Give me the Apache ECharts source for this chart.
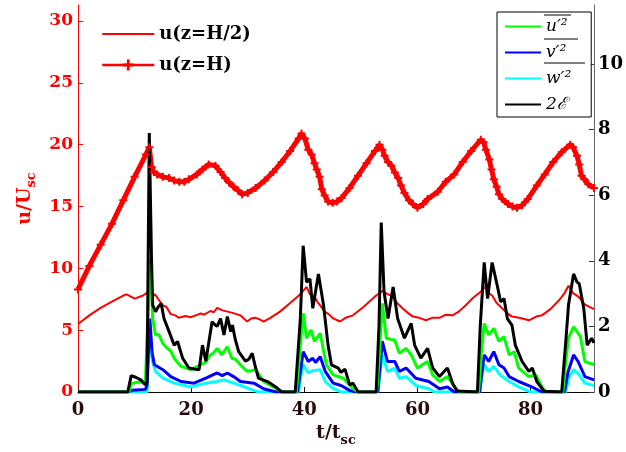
<!DOCTYPE html>
<html>
<head>
<meta charset="utf-8">
<script src="https://cdn.jsdelivr.net/npm/echarts@6/dist/echarts.min.js"></script>
<style>
  html, body { margin: 0; padding: 0; background: #fff; }
  #chart { width: 626px; height: 452px; }
</style>
</head>
<body>
<div id="chart"></div>
<script>
// velocity at mid height, u(z=H/2), left axis  [t, u]
var uMid = [[0,5.5],[2,6.2],[4,6.8],[6,7.3],[8,7.8],[8.6,7.9],[10,7.55],[11.5,7.8],[12.4,8.1],[13,7.7],[13.6,7.9],[14.2,7.5],[15,7.0],[15.6,6.9],[16.4,6.3],[17.2,6.2],[17.8,6.0],[19,6.15],[19.9,6.05],[20.8,6.2],[21.7,6.35],[22.3,6.25],[23.4,6.55],[24,6.45],[24.6,6.8],[25.5,6.6],[26.4,6.5],[27.3,6.4],[28.7,6.2],[29.4,5.9],[29.9,5.7],[30.6,5.95],[31.4,6.0],[32.2,5.85],[32.8,5.7],[34,6.0],[35.7,6.5],[37.5,7.2],[39.3,7.9],[40.4,8.5],[41,7.9],[41.8,7.7],[42.3,7.3],[42.8,7.0],[43.6,6.5],[44.3,6.3],[45.1,5.95],[46.3,5.7],[47.3,6.0],[48.6,6.2],[50.5,6.9],[52.7,7.8],[53.9,8.2],[54.7,7.9],[55.5,7.8],[56.4,7.2],[57.4,6.75],[58.3,6.4],[59.2,6.1],[60.3,6.0],[61.5,5.8],[62.6,6.0],[63.9,6.0],[65,6.25],[66.2,6.2],[67.3,6.5],[68.5,7.0],[69.8,7.6],[70.9,8.0],[72,8.5],[72.6,8.0],[73.2,7.8],[74,7.2],[75,6.75],[75.8,6.4],[76.7,6.1],[78,6.0],[79.7,5.8],[81,6.1],[82,6.2],[83.5,6.7],[85,7.4],[86,8.0],[86.7,8.6],[87.5,8.0],[88.5,7.7],[89.5,7.1],[90.3,6.9],[91.2,6.7]];

// velocity at the top, u(z=H), left axis
var uTop = [[0,8.3],[2,10.2],[4,11.9],[6,13.6],[8,15.5],[10,17.4],[12,19.2],[12.6,19.8],[13.0,18.2],[13.4,17.8],[14,17.6],[15,17.4],[16.1,17.3],[17,17.1],[17.9,17.0],[18.8,17.0],[19.6,17.2],[21,17.6],[22,18.0],[23.1,18.4],[24.3,18.3],[25.2,17.8],[26,17.3],[26.7,16.95],[27.5,16.6],[28.3,16.3],[29,16.0],[30,16.1],[31.4,16.5],[33,17.1],[34.5,17.8],[36,18.6],[37.5,19.5],[39.0,20.5],[39.5,20.9],[40.1,20.5],[40.7,19.6],[41.3,19.2],[41.8,18.5],[42.2,18.0],[42.7,17.4],[43.1,16.4],[43.6,15.9],[44.2,15.4],[45,15.3],[45.8,15.4],[46.6,15.7],[48,16.5],[49.5,17.5],[51,18.5],[52.5,19.5],[53.3,20.0],[53.8,19.6],[54.2,19.1],[54.8,18.6],[55.4,18.3],[56,17.75],[56.6,17.3],[57.1,16.7],[57.7,16.1],[58.5,15.5],[59.2,15.2],[60,14.9],[61,15.2],[61.8,15.6],[63.6,16.2],[65,17.0],[66.5,17.6],[68,18.6],[69.5,19.5],[71.2,20.4],[71.7,20.2],[72.1,19.6],[72.7,18.8],[73.1,18.0],[73.5,17.2],[74,16.6],[74.4,16.0],[75,15.6],[76,15.2],[76.8,15.0],[77.6,14.9],[78.5,15.1],[79.5,15.6],[81.1,16.7],[82.5,17.6],[84,18.6],[85.5,19.4],[87,20.0],[87.5,19.8],[88.2,19.1],[88.6,18.4],[89,17.5],[89.5,17.2],[90.2,16.8],[91.2,16.5]];

// fluctuations, right axis
var uu = [[0,0],[9,0],[9.4,0.25],[10.5,0.3],[11.9,0.3],[12.2,0.35],[12.8,4.06],[13.2,2.24],[13.7,1.74],[14.3,1.75],[15,1.48],[15.8,1.33],[16.4,1.25],[17,1.03],[18.2,0.78],[19.9,0.68],[21.7,0.83],[22.5,0.9],[23.4,1.13],[24,1.2],[24.6,1.33],[25.4,1.13],[26.4,1.38],[27.2,1.03],[27.8,1.0],[28.7,0.83],[29.9,0.63],[30.6,0.65],[31.4,0.68],[32.8,0.32],[34.6,0.15],[36,0],[38.6,0],[39.2,1.2],[39.8,2.4],[40.4,1.64],[41.2,1.89],[41.8,1.54],[42.8,1.79],[43.9,0.83],[45.1,0.52],[46.9,0.42],[48.6,0.1],[49.5,0],[52.8,0],[53.3,1.2],[53.8,2.7],[54.5,1.64],[56,1.58],[56.8,1.18],[58,1.33],[58.9,1.13],[60,0.73],[61.8,0.93],[62.7,0.52],[63.9,0.32],[65.3,0.47],[66.8,0.1],[67.5,0],[70.8,0],[71.3,1.2],[71.8,2.09],[72.6,1.74],[73.5,1.94],[74.4,1.54],[75.3,1.69],[76.2,1.13],[77.1,1.23],[77.9,0.73],[79.7,0.47],[80.9,0.52],[82.1,0.13],[82.8,0],[85.7,0],[86.2,0.9],[86.7,1.64],[87.6,1.99],[88.8,1.69],[89.6,0.93],[91.2,0.83]];

var vv = [[0,0],[9,0],[9.5,0.05],[11.9,0.08],[12.2,0.2],[12.7,2.24],[13.1,1.2],[13.5,0.83],[15,0.68],[16.4,0.47],[18.2,0.32],[20.5,0.27],[22.6,0.42],[24.6,0.58],[25.5,0.5],[26.4,0.58],[27.5,0.47],[28.7,0.32],[31.1,0.27],[32.8,0.1],[35,0],[38.8,0],[39.3,0.6],[39.8,1.23],[40.7,0.93],[41.5,1.03],[42,0.9],[42.8,1.08],[43.7,0.63],[45.1,0.27],[46.5,0.2],[48,0.05],[49,0],[53,0],[53.4,0.8],[53.8,1.54],[54.7,0.93],[56,0.93],[56.8,0.63],[58,0.73],[59.7,0.42],[62,0.32],[63.9,0.1],[65.3,0.15],[66.5,0],[71,0],[71.4,0.6],[71.8,1.13],[72.6,0.93],[73.5,1.23],[74.4,0.83],[75.3,0.73],[76.2,0.47],[77.9,0.32],[80.3,0.15],[82,0],[86,0],[86.6,0.6],[87.6,1.13],[88.4,0.93],[89.6,0.47],[91.2,0.37]];

var ww = [[0,0],[12.2,0],[12.6,1.64],[13.2,0.9],[13.7,0.63],[15,0.42],[17,0.27],[19.9,0.15],[22.6,0.27],[24.5,0.32],[25.8,0.37],[27,0.3],[28.7,0.2],[31,0.05],[32,0],[39,0],[39.3,0.4],[39.8,0.83],[40.7,0.58],[41.5,0.65],[42.8,0.68],[43.7,0.32],[45,0.12],[46.5,0],[53,0],[53.4,0.6],[53.8,1.13],[54.7,0.63],[56,0.73],[56.8,0.42],[58,0.47],[59.7,0.2],[62,0.1],[63,0],[71,0],[71.4,0.5],[71.8,0.83],[72.6,0.63],[73.5,0.78],[74.6,0.52],[76.2,0.32],[78,0.15],[80,0],[86.2,0],[86.8,0.45],[87.6,0.68],[88.6,0.52],[89.6,0.27],[91.2,0.2]];

var e2 = [[0,0],[8.8,0],[9.4,0.5],[10.2,0.45],[11.1,0.37],[11.9,0.22],[12.2,0.3],[12.6,7.9],[13.0,4],[13.2,2.65],[13.7,2.45],[14.2,2.6],[14.7,2.7],[15.2,2.24],[16.1,1.84],[17,1.43],[17.6,1.54],[18.5,1.03],[19.6,0.73],[20.5,0.7],[21.4,0.68],[22,1.43],[22.6,0.94],[23.2,1.6],[23.7,2.14],[24.2,2.05],[24.6,2.0],[25.2,2.24],[25.8,1.74],[26.4,2.3],[27,1.84],[27.3,2.04],[27.8,1.6],[28.4,1.23],[29.6,0.94],[30.2,1.0],[30.8,1.18],[31.3,0.8],[31.9,0.42],[33.7,0.3],[35.2,0.12],[36,0],[38.4,0],[39.3,2.24],[39.8,4.46],[40.4,3.35],[41,3.45],[41.5,2.55],[42.5,3.6],[43.4,2.65],[44.2,1.43],[44.8,0.83],[46,0.73],[46.5,0.6],[47.2,0.7],[48,0.22],[48.6,0.27],[49.5,0],[52.7,0],[53.2,2.0],[53.6,5.17],[54.1,3.05],[54.8,2.24],[55.7,3.2],[56.5,2.24],[57.7,1.64],[58.9,2.09],[59.5,1.43],[60.6,1.03],[61.8,1.33],[62.7,0.73],[63.9,0.47],[65.3,0.73],[66.2,0.27],[67,0.03],[70.6,0],[71.1,2.0],[71.8,3.95],[72.4,2.85],[73.2,3.95],[74.1,3.25],[74.7,2.75],[75.3,2.85],[75.9,2.24],[76.7,2.04],[77.3,1.43],[78.5,0.93],[79.7,0.63],[80.3,0.73],[81.1,0.32],[82.4,0.02],[85.5,0],[86.2,1.5],[86.7,2.65],[87.6,3.6],[88.2,3.35],[88.6,3.3],[89.4,2.55],[90,1.43],[90.8,1.64],[91.2,1.5]];

var xTicks = [0, 91.2, 20];     // min, max, interval
var yLeftTicks = [0, 31.3, 5];
var yRightTicks = [0, 11.8, 2];

var FONT = 'DejaVu Serif';
var plus = 'path://M3,0H5V3H8V5H5V8H3V5H0V3H3Z';
var hidden = { opacity: 0 };   // hide the legend dot on plain lines

var chart = echarts.init(document.getElementById('chart'));

chart.setOption({
  animation: false,
  grid: { left: 78, right: 29, top: 5, bottom: 58 },
  legend: [
    {
      left: 96, top: 20, orient: 'vertical',
      itemWidth: 52, itemHeight: 14, itemGap: 13,
      textStyle: { fontFamily: FONT, fontWeight: 'bold', fontSize: 18, color: '#000' },
      data: [
        { name: 'u(z=H/2)', itemStyle: hidden },
        { name: 'u(z=H)', lineStyle: { width: 2.5 } }
      ]
    },
    {
      left: 497, top: 12, orient: 'vertical',
      itemWidth: 36, itemHeight: 14, itemGap: 9,
      padding: [6, 20, 4, 7],
      borderColor: '#000', borderWidth: 1, backgroundColor: '#fff',
      textStyle: { fontFamily: FONT, fontStyle: 'italic', fontSize: 17, color: '#000' },
      data: [
        { name: 'u′²', itemStyle: hidden },
        { name: 'v′²', itemStyle: hidden },
        { name: 'w′²', itemStyle: hidden },
        { name: '2ℰ', itemStyle: hidden }
      ]
    }
  ],
  graphic: [
    { type: 'line', z: 100, shape: { x1: 544, y1: 15, x2: 571, y2: 15 }, style: { stroke: '#000', lineWidth: 1 } },
    { type: 'line', z: 100, shape: { x1: 544, y1: 39, x2: 578, y2: 39 }, style: { stroke: '#000', lineWidth: 1 } },
    { type: 'line', z: 100, shape: { x1: 544, y1: 63, x2: 585, y2: 63 }, style: { stroke: '#000', lineWidth: 1 } }
  ],
  xAxis: {
    type: 'value', min: xTicks[0], max: xTicks[1], interval: xTicks[2],
    name: '{a|t/t}{b|sc}', nameLocation: 'middle', nameGap: 28,
    nameTextStyle: {
      rich: {
        a: { fontFamily: FONT, fontWeight: 'bold', fontSize: 19, color: '#2a0a0a' },
        b: { fontFamily: FONT, fontWeight: 'bold', fontSize: 13, color: '#2a0a0a', padding: [14, 0, 0, 0] }
      }
    },
    axisLine: { lineStyle: { color: '#000', width: 1 } },
    axisTick: { inside: true, length: 5, lineStyle: { color: '#3a0a0a' } },
    axisLabel: { margin: 9, showMaxLabel: false, fontFamily: FONT, fontWeight: 'bold', fontSize: 18, color: '#2a0a0a' },
    splitLine: { show: false }
  },
  yAxis: [
    {
      type: 'value', min: yLeftTicks[0], max: yLeftTicks[1], interval: yLeftTicks[2],
      name: '{a|u/U}{b|sc}', nameLocation: 'middle', nameGap: 36,
      nameTextStyle: {
        rich: {
          a: { fontFamily: FONT, fontWeight: 'bold', fontSize: 19, color: '#ff0000' },
          b: { fontFamily: FONT, fontWeight: 'bold', fontSize: 13, color: '#ff0000', padding: [14, 0, 0, 0] }
        }
      },
      axisLine: { show: true, lineStyle: { color: '#ff0000', width: 1 } },
      axisTick: { inside: true, length: 5, lineStyle: { color: '#ff0000' } },
      axisLabel: { margin: 5, showMaxLabel: false, fontFamily: FONT, fontWeight: 'bold', fontSize: 17, color: '#ff0000' },
      splitLine: { show: false }
    },
    {
      type: 'value', min: yRightTicks[0], max: yRightTicks[1], interval: yRightTicks[2],
      position: 'right',
      axisLine: { show: true, lineStyle: { color: '#666', width: 1 } },
      axisTick: { inside: true, length: 5, lineStyle: { color: '#333' } },
      axisLabel: { margin: 4, showMaxLabel: false, fontFamily: FONT, fontWeight: 'bold', fontSize: 18, color: '#000' },
      splitLine: { show: false }
    }
  ],
  series: [
    {
      name: 'u(z=H/2)', type: 'line', yAxisIndex: 0, data: uMid,
      symbol: 'none', lineStyle: { color: '#ff0000', width: 2 }, itemStyle: { color: '#ff0000' }
    },
    {
      name: 'u(z=H)', type: 'line', yAxisIndex: 0, data: uTop,
      symbol: plus, symbolSize: 8, showSymbol: true,
      lineStyle: { color: '#ff0000', width: 5 }, itemStyle: { color: '#ff0000' }
    },
    {
      name: 'w′²', type: 'line', yAxisIndex: 1, data: ww,
      symbol: 'none', lineStyle: { color: '#00ffff', width: 3 }, itemStyle: { color: '#00ffff' }
    },
    {
      name: 'v′²', type: 'line', yAxisIndex: 1, data: vv,
      symbol: 'none', lineStyle: { color: '#0000ff', width: 3 }, itemStyle: { color: '#0000ff' }
    },
    {
      name: 'u′²', type: 'line', yAxisIndex: 1, data: uu,
      symbol: 'none', lineStyle: { color: '#00ff00', width: 3 }, itemStyle: { color: '#00ff00' }
    },
    {
      name: '2ℰ', type: 'line', yAxisIndex: 1, data: e2,
      symbol: 'none', lineStyle: { color: '#000', width: 3 }, itemStyle: { color: '#000' }
    }
  ]
});
</script>
</body>
</html>
